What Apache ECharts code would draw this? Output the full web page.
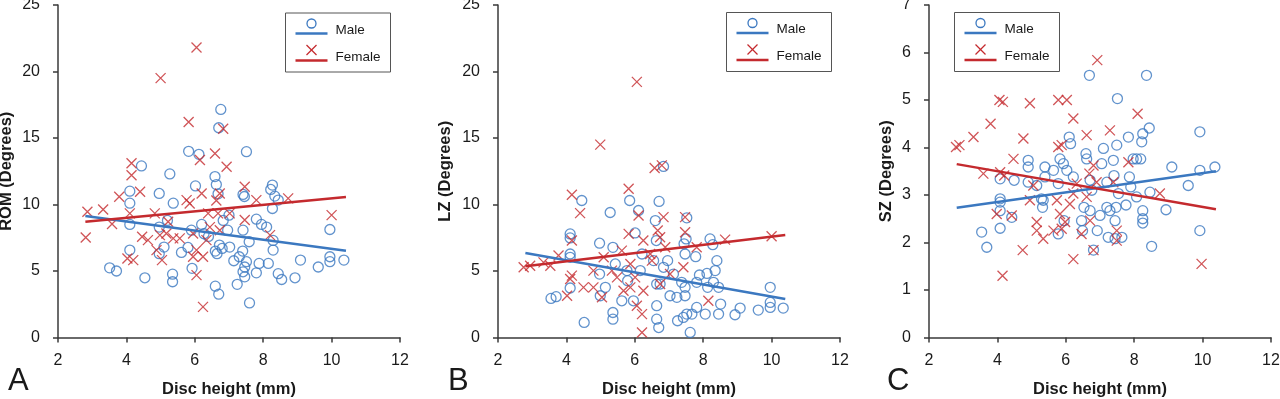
<!DOCTYPE html>
<html>
<head>
<meta charset="utf-8">
<script src="https://cdn.jsdelivr.net/npm/echarts@6/dist/echarts.min.js"></script>
<style>
  html, body { margin: 0; padding: 0; background: #fff; }
  #chart { width: 1280px; height: 399px; }
</style>
</head>
<body>
<div id="chart"></div>
<script>
// values: [disc height (mm), degrees]
const romMale = [[3.51,5.24],[3.71,5.0],[4.1,11.0],[4.1,10.1],[4.1,8.5],[4.1,6.57],[4.44,12.9],[4.54,4.49],[4.96,10.83],[4.96,8.3],[4.96,6.3],[5.27,12.3],[5.37,10.1],[5.35,4.76],[5.35,4.19],[5.61,6.4],[5.82,14.0],[6.12,13.77],[6.02,11.4],[5.92,5.2],[5.8,6.77],[6.2,8.5],[6.27,7.8],[6.59,12.1],[6.63,11.5],[6.68,10.8],[6.76,17.15],[6.7,15.77],[6.6,3.86],[6.7,3.26],[6.65,6.3],[6.72,6.95],[6.83,8.8],[6.96,8.07],[7.02,6.8],[7.14,5.77],[7.24,4.0],[7.3,6.07],[7.4,6.5],[7.41,10.76],[7.45,10.6],[7.41,8.07],[7.51,13.97],[7.41,4.94],[7.46,4.56],[7.51,5.7],[7.46,5.3],[7.6,2.6],[7.8,8.9],[7.95,8.5],[7.8,4.86],[7.88,5.57],[8.1,8.3],[8.15,5.57],[8.22,11.13],[8.27,11.46],[8.34,10.63],[8.44,10.33],[8.27,9.7],[8.29,7.3],[8.29,6.57],[8.44,4.8],[8.54,4.36],[8.93,4.49],[9.09,5.82],[9.61,5.3],[9.95,8.12],[9.95,6.07],[9.95,5.7],[10.36,5.82],[7.59,7.2],[5.9,8.07],[6.6,6.5],[6.8,6.7],[5.1,6.8],[6.4,7.6],[7.0,9.2],[5.2,8.8]];
const romFemale = [[6.05,21.8],[5.0,19.5],[5.82,16.2],[6.83,15.7],[6.59,13.84],[6.15,13.34],[6.93,12.84],[4.15,13.1],[4.15,12.2],[4.4,10.96],[3.79,10.58],[3.32,9.63],[2.86,9.45],[2.81,7.52],[3.58,8.53],[4.1,9.33],[4.46,7.57],[4.63,7.32],[4.83,9.33],[4.98,7.7],[5.04,5.82],[4.88,6.57],[4.03,5.94],[4.2,5.82],[5.17,7.82],[5.37,7.45],[5.22,8.7],[5.56,7.45],[5.76,10.33],[5.85,10.08],[5.95,7.82],[6.05,6.57],[6.05,4.69],[6.24,2.3],[6.24,6.07],[6.34,7.32],[6.2,10.83],[6.39,9.33],[6.63,10.3],[6.73,10.83],[6.68,9.33],[6.73,8.07],[7.02,9.33],[7.46,11.33],[7.46,8.83],[7.8,10.33],[8.2,7.7],[8.73,10.46],[10.0,9.2],[6.44,8.3],[5.95,6.07]];
const lzMale = [[3.55,2.94],[3.7,3.07],[4.11,7.79],[4.11,7.49],[4.11,6.28],[4.11,6.03],[4.11,3.72],[4.45,10.3],[4.52,1.13],[4.97,7.09],[4.97,4.77],[4.99,3.14],[5.14,3.77],[5.28,9.4],[5.36,6.78],[5.36,1.88],[5.36,1.38],[5.43,5.53],[5.62,2.76],[5.85,10.3],[5.77,5.03],[5.79,4.27],[5.96,2.76],[6.01,7.86],[6.11,9.55],[6.16,5.03],[6.21,6.28],[6.55,5.78],[6.6,8.79],[6.63,7.29],[6.64,4.02],[6.64,2.39],[6.64,1.38],[6.7,0.75],[6.71,10.23],[6.84,12.86],[6.74,4.02],[6.84,5.28],[6.96,5.78],[7.03,3.14],[7.13,4.77],[7.23,3.02],[7.25,1.26],[7.37,4.15],[7.42,1.51],[7.47,6.28],[7.44,7.04],[7.5,7.41],[7.52,9.0],[7.52,1.76],[7.47,3.77],[7.47,3.14],[7.62,0.38],[7.67,1.76],[7.78,6.08],[7.81,2.26],[7.81,4.15],[7.89,4.7],[8.06,1.76],[8.11,4.82],[8.13,3.77],[8.2,7.41],[8.28,6.98],[8.3,4.15],[8.35,5.03],[8.4,5.78],[8.45,1.76],[8.45,3.77],[8.51,2.51],[8.93,1.71],[9.08,2.21],[9.61,2.06],[9.96,3.77],[9.96,2.64],[9.96,2.26],[10.34,2.21]];
const lzFemale = [[6.06,19.22],[4.99,14.5],[6.58,12.74],[6.79,12.94],[5.82,11.18],[4.16,10.73],[4.4,9.35],[6.11,9.17],[7.47,9.05],[6.84,9.05],[5.82,7.79],[6.67,8.04],[6.25,7.29],[6.74,7.54],[7.47,7.91],[8.64,7.36],[10.0,7.61],[4.16,7.29],[3.77,6.16],[3.33,5.65],[2.75,5.28],[2.94,5.4],[3.53,5.4],[4.02,3.14],[4.16,4.65],[4.11,4.4],[4.5,3.77],[4.79,5.03],[4.79,3.77],[5.04,3.02],[5.09,6.03],[5.33,5.03],[5.48,4.52],[5.67,3.52],[5.62,6.53],[5.87,3.77],[6.01,4.52],[6.06,2.39],[6.21,1.76],[6.21,0.38],[6.25,3.52],[6.5,5.78],[6.74,4.02],[6.89,6.78],[7.03,4.77],[7.42,5.28],[7.81,6.78],[8.15,2.76],[6.45,6.28],[5.87,5.53]];
const szMale = [[3.54,2.22],[3.69,1.9],[4.08,3.34],[4.08,2.92],[4.08,2.85],[4.08,2.67],[4.08,2.3],[4.42,2.53],[4.49,3.31],[4.9,3.73],[4.9,3.59],[4.9,3.27],[5.15,3.2],[5.29,2.92],[5.32,2.74],[5.34,2.89],[5.39,3.59],[5.39,3.38],[5.64,3.52],[5.78,3.24],[5.78,2.18],[5.83,3.76],[5.93,3.66],[5.95,2.46],[6.03,3.52],[6.1,4.22],[6.14,4.08],[6.22,3.38],[6.46,2.46],[6.49,2.25],[6.53,2.74],[6.59,3.87],[6.61,3.76],[6.69,5.52],[6.71,2.67],[6.71,3.31],[6.76,3.1],[6.81,1.84],[6.92,2.25],[7.0,2.57],[7.05,3.66],[7.1,3.98],[7.2,3.27],[7.2,2.74],[7.24,2.11],[7.29,2.67],[7.39,3.73],[7.41,3.41],[7.44,2.46],[7.44,2.08],[7.47,2.74],[7.49,4.05],[7.51,5.03],[7.54,3.03],[7.64,2.11],[7.76,2.79],[7.83,4.22],[7.86,3.38],[7.9,3.17],[7.97,3.76],[8.07,3.76],[8.19,3.76],[8.07,2.96],[8.22,4.12],[8.25,4.29],[8.25,2.67],[8.25,2.5],[8.25,2.41],[8.36,5.52],[8.44,4.41],[8.46,3.06],[8.51,1.92],[8.93,2.69],[9.1,3.59],[9.58,3.2],[9.92,4.33],[9.92,3.52],[9.92,2.25],[10.36,3.59]];
const szFemale = [[6.92,5.84],[4.06,5.0],[4.16,4.96],[4.95,4.93],[5.78,5.0],[6.03,5.0],[3.8,4.5],[3.3,4.22],[2.79,4.01],[2.89,4.05],[4.76,4.19],[6.22,4.61],[6.61,4.26],[7.29,4.36],[8.1,4.71],[5.78,4.01],[5.88,4.05],[4.47,3.76],[3.59,3.45],[4.08,3.48],[4.2,3.41],[4.42,2.57],[3.98,2.6],[4.15,1.3],[4.74,1.84],[4.95,2.89],[5.05,3.2],[5.15,2.43],[5.15,2.25],[5.34,2.08],[5.64,2.25],[5.74,2.89],[5.83,2.6],[5.88,2.29],[5.98,2.43],[6.12,2.81],[6.22,3.03],[6.22,1.65],[6.32,3.24],[6.46,2.18],[6.61,2.96],[6.69,3.45],[6.71,2.46],[6.81,3.62],[6.81,1.84],[6.9,3.27],[7.39,3.27],[7.49,2.25],[7.49,2.04],[7.83,3.69],[8.75,3.03],[9.97,1.55]];

// trend line end points as drawn
const romMaleFit = [[2.8,9.13],[10.42,6.52]];
const romFemaleFit = [[2.8,8.7],[10.42,10.57]];
const lzMaleFit = [[2.8,6.36],[10.4,2.89]];
const lzFemaleFit = [[2.8,5.35],[10.4,7.71]];
const szMaleFit = [[2.81,2.73],[10.39,3.5]];
const szFemaleFit = [[2.81,3.65],[10.39,2.7]];

const yNames = ['ROM (Degrees)', 'LZ (Degrees)', 'SZ (Degrees)'];
const yMax = [25, 25, 7];
const yStep = [5, 5, 1];
const panelLetters = ['A', 'B', 'C'];

const BLUE = '#3b78c0';
const RED = '#c42a2e';
const AXIS = '#3a3a3a';
const FONT = 'Liberation Sans, Arial, sans-serif';
const CROSS = 'path://M0,0L10,10M10,0L0,10';

const grids = [
  { left: 58, right: 880, top: 5, bottom: 61.5, outerBoundsMode: 'none', containLabel: false },
  { left: 498, right: 440, top: 5, bottom: 61.5, outerBoundsMode: 'none', containLabel: false },
  { left: 929, right: 9, top: 5, bottom: 61.5, outerBoundsMode: 'none', containLabel: false }
];
const nameGaps = [43, 44, 34];

const xAxis = grids.map((g, i) => ({
  type: 'value', gridIndex: i, min: 2, max: 12, interval: 2,
  name: 'Disc height (mm)', nameLocation: 'middle', nameGap: 43,
  nameTextStyle: { fontFamily: FONT, fontSize: 16.5, fontWeight: 'bold', color: '#1a1a1a' },
  axisLine: { show: true, onZero: false, lineStyle: { color: AXIS, width: 1.5 } },
  axisTick: { show: true, length: 5, lineStyle: { color: AXIS, width: 1.5 } },
  axisLabel: { fontFamily: FONT, fontSize: 16, color: '#1a1a1a', margin: 15 },
  splitLine: { show: false }
}));

const yAxis = grids.map((g, i) => ({
  type: 'value', gridIndex: i, min: 0, max: yMax[i], interval: yStep[i],
  name: yNames[i], nameLocation: 'middle', nameGap: nameGaps[i],
  nameTextStyle: { fontFamily: FONT, fontSize: 16.5, fontWeight: 'bold', color: '#1a1a1a' },
  axisLine: { show: true, lineStyle: { color: AXIS, width: 1.5 } },
  axisTick: { show: true, length: 5, lineStyle: { color: AXIS, width: 1.5 } },
  axisLabel: { fontFamily: FONT, fontSize: 16, color: '#1a1a1a', margin: 18 },
  splitLine: { show: false }
}));

const panels = [
  [romMale, romFemale, romMaleFit, romFemaleFit],
  [lzMale, lzFemale, lzMaleFit, lzFemaleFit],
  [szMale, szFemale, szMaleFit, szFemaleFit]
];

const series = [];
panels.forEach((p, i) => {
  series.push({
    type: 'scatter', xAxisIndex: i, yAxisIndex: i, data: p[0],
    symbol: 'circle', symbolSize: 10,
    itemStyle: { color: 'rgba(0,0,0,0)', borderColor: BLUE, borderWidth: 1.3 }
  });
  series.push({
    type: 'scatter', xAxisIndex: i, yAxisIndex: i, data: p[1],
    symbol: CROSS, symbolSize: 10,
    itemStyle: { color: 'rgba(0,0,0,0)', borderColor: RED, borderWidth: 1.3 }
  });
  series.push({
    type: 'line', xAxisIndex: i, yAxisIndex: i, data: p[2], showSymbol: false,
    lineStyle: { color: BLUE, width: 2.5 }, z: 3
  });
  series.push({
    type: 'line', xAxisIndex: i, yAxisIndex: i, data: p[3], showSymbol: false,
    lineStyle: { color: RED, width: 2.5 }, z: 3
  });
});

// legend boxes drawn like the spreadsheet ones: marker above a short line
const legendBox = (x, y) => ({
  type: 'group', left: x, top: y,
  children: [
    { type: 'rect', shape: { x: 0, y: 0, width: 105, height: 59 },
      style: { fill: '#fff', stroke: '#555', lineWidth: 1 } },
    { type: 'circle', shape: { cx: 26, cy: 10.5, r: 4.5 },
      style: { fill: 'none', stroke: BLUE, lineWidth: 1.3 } },
    { type: 'line', shape: { x1: 10, y1: 20.5, x2: 42, y2: 20.5 },
      style: { stroke: BLUE, lineWidth: 2.5 } },
    { type: 'text', x: 50, y: 17, style: { text: 'Male', font: '13.5px ' + FONT, fill: '#1a1a1a', verticalAlign: 'middle' } },
    { type: 'polyline', shape: { points: [[21, 32], [31, 42]] }, style: { stroke: RED, lineWidth: 1.3 } },
    { type: 'polyline', shape: { points: [[31, 32], [21, 42]] }, style: { stroke: RED, lineWidth: 1.3 } },
    { type: 'line', shape: { x1: 10, y1: 47.5, x2: 42, y2: 47.5 },
      style: { stroke: RED, lineWidth: 2.5 } },
    { type: 'text', x: 50, y: 44, style: { text: 'Female', font: '13.5px ' + FONT, fill: '#1a1a1a', verticalAlign: 'middle' } }
  ]
});

const letterX = [8, 448, 887];
const graphic = [legendBox(285, 12.5), legendBox(726, 12), legendBox(954, 12)];
panelLetters.forEach((t, i) => {
  graphic.push({ type: 'text', left: letterX[i], top: 366,
    style: { text: t, font: '31px ' + FONT, fill: '#1a1a1a' } });
});

const chart = echarts.init(document.getElementById('chart'));
chart.setOption({
  animation: false,
  backgroundColor: '#fff',
  grid: grids,
  xAxis,
  yAxis,
  series,
  graphic
});
</script>
</body>
</html>
